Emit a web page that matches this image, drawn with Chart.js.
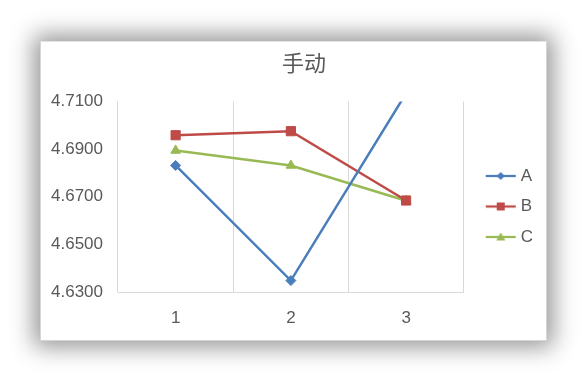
<!DOCTYPE html>
<html>
<head>
<meta charset="utf-8">
<script src="https://cdn.jsdelivr.net/npm/chart.js@4/dist/chart.umd.min.js"></script>
<style>
  html, body { margin: 0; padding: 0; background: #ffffff; }
  body { width: 588px; height: 383px; position: relative; overflow: hidden; }
  #card {
    position: absolute; left: 40px; top: 41px; width: 507px; height: 300px;
    background: #ffffff;
    box-shadow: 0 0 22px 6px rgba(0,0,0,0.42);
  }
  #card::after {
    content: ''; position: absolute; left: 0; top: 0; right: 0; bottom: 0;
    border: 1px solid #d6d6d6; border-top-color: #e4e4e4; pointer-events: none;
  }
  #card canvas { display: block; }
</style>
</head>
<body>
<div id="card"><canvas id="c" width="507" height="299"></canvas></div>
<script>
// Categories and measured values for each series
const categories = ['1', '2', '3'];
const seriesA = [4.6831, 4.6348, 4.7134];
const seriesB = [4.6958, 4.6975, 4.6684];
const seriesC = [4.6894, 4.6831, 4.6683];
const yTicks = [4.63, 4.65, 4.67, 4.69, 4.71];

const colorA = '#4A7EBB';
const colorB = '#BE4B48';
const colorC = '#98B954';
const textGray = '#595959';
const gridGray = '#D9D9D9';
const baseFont = 'Liberation Sans, Arial, sans-serif';

// Legend icon: short line with the series marker in the middle
const ICON_W = 44, ICON_H = 14, ICON_LINE = 30;
function legendIcon(color, style) {
  const cv = document.createElement('canvas');
  cv.width = ICON_W; cv.height = ICON_H;
  const g = cv.getContext('2d');
  const x0 = ICON_W - ICON_LINE - 1, cx = x0 + ICON_LINE / 2, cy = ICON_H / 2;
  g.strokeStyle = color; g.lineWidth = 2.25;
  g.beginPath(); g.moveTo(x0, cy); g.lineTo(x0 + ICON_LINE, cy); g.stroke();
  g.fillStyle = color;
  g.beginPath();
  if (style === 'rectRot') {
    g.moveTo(cx, cy - 4); g.lineTo(cx + 4, cy); g.lineTo(cx, cy + 4); g.lineTo(cx - 4, cy);
  } else if (style === 'rect') {
    g.rect(cx - 4, cy - 4, 8, 8);
  } else {
    g.moveTo(cx, cy - 4.5); g.lineTo(cx + 4.5, cy + 3.5); g.lineTo(cx - 4.5, cy + 3.5);
  }
  g.closePath(); g.fill();
  return cv;
}

function lineSeries(label, data, color, style, radius) {
  return {
    label, data,
    borderColor: color, backgroundColor: color,
    borderWidth: 2.5,
    pointStyle: style, pointRadius: radius, pointHoverRadius: radius,
    pointBorderWidth: 1, pointBorderColor: color, pointBackgroundColor: color,
    tension: 0, clip: 0,
    legendIcon: legendIcon(color, style)
  };
}

// Places the title and legend boxes after the layout pass
const boxPlacement = {
  id: 'boxPlacement',
  afterLayout(chart) {
    const t = chart.titleBlock;
    if (t) {
      const shift = 264 - (t.left + t.right) / 2;
      t.left += shift; t.right += shift;
    }
    const lg = chart.legend;
    if (lg) {
      const dy = 113 - lg.top;
      lg.top += dy; lg.bottom += dy;
    }
  }
};

new Chart(document.getElementById('c'), {
  type: 'line',
  data: {
    labels: categories,
    datasets: [
      lineSeries('A', seriesA, colorA, 'rectRot', 5),
      lineSeries('B', seriesB, colorB, 'rect', 6.5),
      lineSeries('C', seriesC, colorC, 'triangle', 5.5)
    ]
  },
  plugins: [boxPlacement],
  options: {
    responsive: false,
    animation: false,
    events: [],
    layout: { padding: { left: 10, right: 4, top: 0, bottom: 0 } },
    plugins: {
      title: {
        display: true,
        text: '手动',
        color: textGray,
        font: { family: 'Noto Sans CJK SC', size: 22, weight: 'normal' },
        padding: { top: 8, bottom: 26 }
      },
      legend: {
        position: 'right',
        align: 'start',
        labels: {
          color: textGray,
          font: { family: baseFont, size: 17 },
          usePointStyle: true,
          pointStyleWidth: 35,
          padding: 13.5,
          generateLabels(chart) {
            return chart.data.datasets.map((ds, i) => ({
              text: ds.label,
              pointStyle: ds.legendIcon,
              fontColor: textGray,
              datasetIndex: i,
              hidden: false,
              lineWidth: 0,
              strokeStyle: 'transparent',
              fillStyle: 'transparent'
            }));
          }
        }
      },
      tooltip: { enabled: false }
    },
    scales: {
      x: {
        offset: true,
        grid: { display: true, offset: true, color: gridGray, lineWidth: 1, drawTicks: false },
        border: { display: true, color: gridGray, width: 1 },
        ticks: { color: textGray, font: { family: baseFont, size: 17 }, padding: 16 },
        afterFit(scale) { scale.height = 48; }
      },
      y: {
        min: 4.63, max: 4.71,
        afterBuildTicks(scale) { scale.ticks = yTicks.map(v => ({ value: v })); },
        grid: { display: false, drawTicks: false },
        border: { display: false },
        ticks: {
          color: textGray,
          font: { family: baseFont, size: 17 },
          padding: 15,
          callback: v => Number(v).toFixed(4)
        },
        afterFit(scale) { scale.width = 68; }
      }
    }
  }
});
</script>
</body>
</html>
